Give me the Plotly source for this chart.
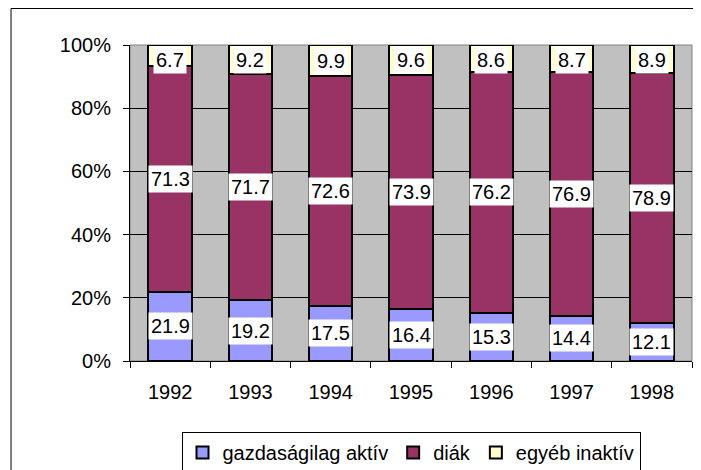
import plotly.graph_objects as go

# %%
years = ["1992", "1993", "1994", "1995", "1996", "1997", "1998"]
aktiv = [21.9, 19.2, 17.5, 16.4, 15.3, 14.4, 12.1]
diak = [71.3, 71.7, 72.6, 73.9, 76.2, 76.9, 78.9]
egyeb = [6.7, 9.2, 9.9, 9.6, 8.6, 8.7, 8.9]

series = [
    ("gazdaságilag aktív", aktiv, "#9999FF"),
    ("diák", diak, "#993366"),
    ("egyéb inaktív", egyeb, "#FFFFCC"),
]

FONT = "Liberation Sans, Arial, sans-serif"

# %%
fig = go.Figure()
for name, vals, color in series:
    fig.add_trace(go.Bar(
        x=years, y=vals, name=name,
        marker=dict(color=color, line=dict(color="black", width=2)),
    ))

# white label boxes in the middle of each segment
# (x given as category index: numeric-looking strings get read as indices)
totals = [a + b + c for a, b, c in zip(aktiv, diak, egyeb)]
annotations = []
for i, year in enumerate(years):
    base = 0
    for name, vals, color in series:
        pct = vals[i] / totals[i] * 100
        mid = min(base + pct / 2, 95.4)
        annotations.append(dict(
            x=i, y=mid, text=f"{vals[i]:.1f}", showarrow=False,
            bgcolor="white", borderpad=2,
            font=dict(family=FONT, size=20, color="black"),
        ))
        base += pct

# page body has an 8px margin, so the figure is 8px smaller and shifted
fig.update_layout(
    barmode="stack", barnorm="percent", bargap=0.46,
    width=693, height=462,
    margin=dict(l=122, r=9, t=37, b=109, autoexpand=False),
    paper_bgcolor="white", plot_bgcolor="#C0C0C0",
    font=dict(family=FONT, size=20, color="black"),
    annotations=annotations,
    legend=dict(
        orientation="h", x=0.5, xanchor="center", y=-0.225, yanchor="top",
        traceorder="normal", bordercolor="black", borderwidth=1,
        bgcolor="white", font=dict(size=20), itemclick=False,
    ),
    shapes=[
        dict(type="rect", xref="paper", yref="paper", x0=0, x1=1, y0=0, y1=1,
             line=dict(color="#808080", width=1), layer="below"),
        dict(type="rect", xref="paper", yref="paper", x0=-0.2117, x1=1.03,
             y0=1.1155, y1=-0.4, line=dict(color="black", width=1)),
    ],
)
fig.update_yaxes(
    range=[0, 100], tick0=0, dtick=20, ticksuffix="%", showticksuffix="all",
    showgrid=True, gridcolor="black", gridwidth=1,
    showline=True, linecolor="black", linewidth=1,
    ticks="outside", ticklen=6, tickcolor="black", zeroline=False,
    ticklabelstandoff=8,
)
fig.update_xaxes(
    type="category", range=[-0.5, 6.5], showline=True, linecolor="black",
    linewidth=1, ticks="outside", ticklen=6, tickcolor="black",
    tickson="boundaries", showgrid=False, ticklabelstandoff=13,
)

fig.write_html("out.html")
